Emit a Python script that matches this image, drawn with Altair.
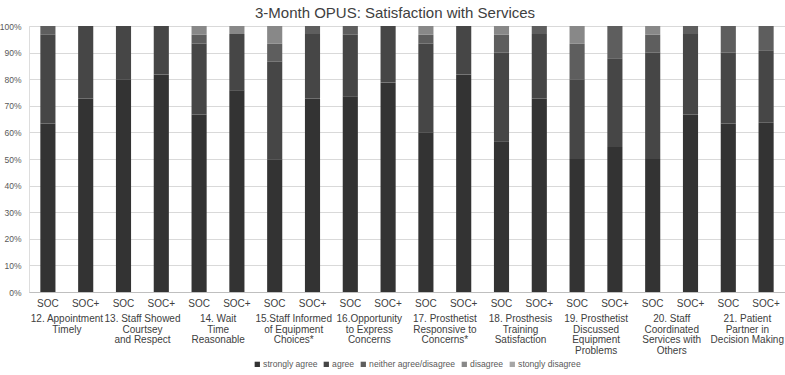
import altair as alt
import pandas as pd

# Survey items (x-axis groups) and the two study arms
groups = [
    "12. Appointment\nTimely",
    "13. Staff Showed\nCourtsey\nand Respect",
    "14. Wait\nTime\nReasonable",
    "15.Staff Informed\nof Equipment\nChoices*",
    "16.Opportunity\nto Express\nConcerns",
    "17. Prosthetist\nResponsive to\nConcerns*",
    "18. Prosthesis\nTraining\nSatisfaction",
    "19. Prosthetist\nDiscussed\nEquipment\nProblems",
    "20. Staff\nCoordinated\nServices with\nOthers",
    "21. Patient\nPartner in\nDecision Making",
]
arms = ["SOC", "SOC+"]

responses = ["strongly agree", "agree", "neither agree/disagree", "disagree", "stongly disagree"]
shades = ["#333333", "#464646", "#5e5e5e", "#888888", "#a6a6a6"]

# Percent of respondents per bar, ordered item by item (SOC, SOC+)
strongly_agree = [63.3, 72.7, 80.0, 81.8, 66.7, 75.8, 50.0, 72.7, 73.3, 78.8,
                  60.0, 81.8, 56.7, 72.7, 50.0, 54.5, 50.0, 66.7, 63.3, 63.6]
agree = [33.3, 27.3, 20.0, 18.2, 26.7, 21.2, 36.7, 24.2, 23.3, 21.2,
         33.3, 18.2, 33.3, 24.2, 30.0, 33.3, 40.0, 30.3, 26.7, 27.3]
neither = [3.3, 0.0, 0.0, 0.0, 3.3, 0.0, 6.7, 3.0, 3.3, 0.0,
           3.3, 0.0, 6.7, 3.0, 13.3, 12.1, 6.7, 3.0, 10.0, 9.1]
disagree = [0.0, 0.0, 0.0, 0.0, 3.3, 3.0, 6.7, 0.0, 0.0, 0.0,
            3.3, 0.0, 3.3, 0.0, 6.7, 0.0, 3.3, 0.0, 0.0, 0.0]
strongly_disagree = [0.0] * 20

y_ticks = [0.0, 0.1, 0.2, 0.3, 0.4, 0.5, 0.6, 0.7, 0.8, 0.9, 1.0]

series = [strongly_agree, agree, neither, disagree, strongly_disagree]

bar_keys = [f"{g:02d} {a}" for g in range(len(groups)) for a in arms]

rows = []
for rank, (resp, vals) in enumerate(zip(responses, series)):
    for key, v in zip(bar_keys, vals):
        rows.append({"bar": key, "response": resp, "rank": rank, "pct": v})
df = pd.DataFrame(rows)

labels_df = pd.DataFrame({
    "bar": [f"{g:02d} SOC" for g in range(len(groups))],
    "label": groups,
})

FONT = "Liberation Sans"
x_scale = alt.Scale(domain=bar_keys, paddingInner=0.6, paddingOuter=0.3)

bars = alt.Chart(df).mark_bar().encode(
    x=alt.X("bar:N", scale=x_scale, sort=bar_keys,
            axis=alt.Axis(title=None, labelExpr="split(datum.label, ' ')[1]",
                          labelAngle=0, ticks=False, domainColor="#bfbfbf",
                          labelFontSize=10, labelColor="#404040", labelFont=FONT,
                          labelPadding=6)),
    y=alt.Y("pct:Q", stack="normalize",
            scale=alt.Scale(domain=[0, 1], nice=False),
            axis=alt.Axis(title=None, format=".0%", values=y_ticks,
                          labelOverlap=False, domain=False, ticks=False,
                          gridColor="#d9d9d9",
                          labelFontSize=8.5, labelColor="#595959", labelFont=FONT,
                          labelPadding=8)),
    color=alt.Color("response:N", sort=responses,
                    scale=alt.Scale(domain=responses, range=shades),
                    legend=alt.Legend(title=None, orient="none", direction="horizontal",
                                      legendX=224, legendY=334, symbolType="square",
                                      symbolSize=28, symbolStrokeWidth=0,
                                      labelFontSize=8.6, labelFont=FONT, labelColor="#595959",
                                      columnPadding=4, labelOffset=1.5)),
    order=alt.Order("rank:Q", sort="ascending"),
)

group_text = alt.Chart(labels_df).mark_text(
    lineBreak="\n", baseline="top", align="center", dx=19,
    fontSize=10, font=FONT, color="#404040", lineHeight=10.5,
).encode(
    x=alt.X("bar:N", scale=x_scale, sort=bar_keys),
    y=alt.value(288),
    text="label:N",
)

chart = alt.layer(bars, group_text).properties(
    width=756,
    height=266,
    autosize=alt.AutoSizeParams(type="none"),
    padding={"left": 29, "top": 26, "right": 0, "bottom": 83},
    title=alt.TitleParams("3-Month OPUS: Satisfaction with Services", fontSize=15,
                          font=FONT, fontWeight="normal", color="#404040",
                          anchor="middle", offset=1, dx=-12),
).configure_view(stroke=None).configure(background="white")

chart.save("out.html", embed_options={"renderer": "svg", "actions": False})
